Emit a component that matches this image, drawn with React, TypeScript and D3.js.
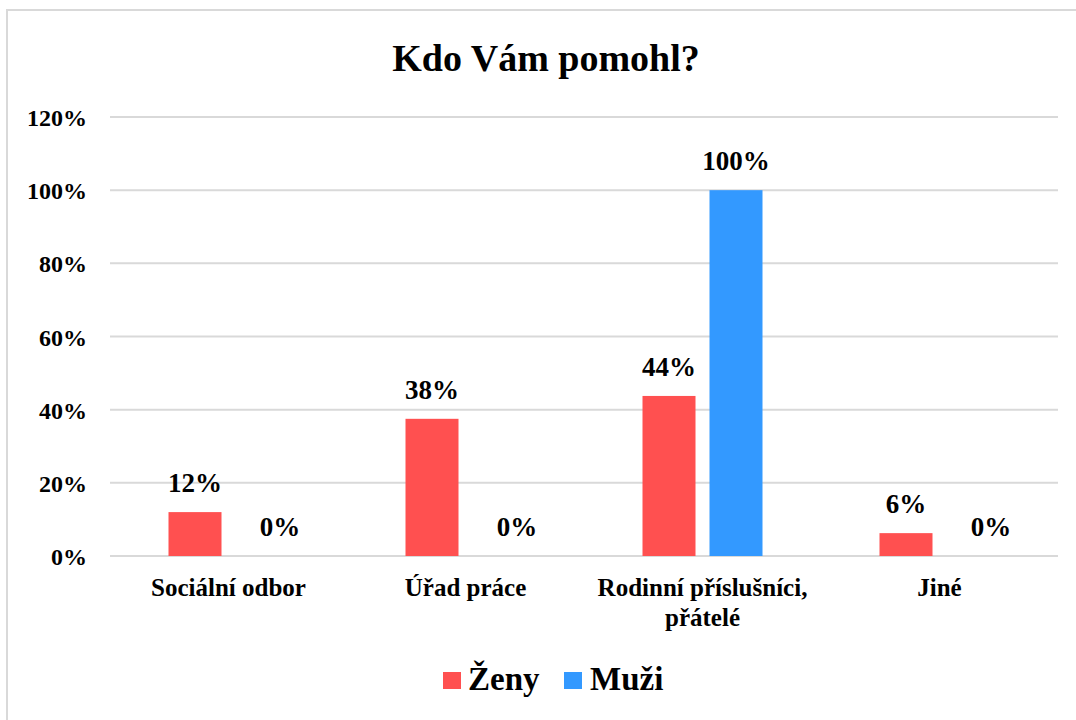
import React from "react";
import * as d3 from "d3";

const categories: string[][] = [
  ["Sociální odbor"],
  ["Úřad práce"],
  ["Rodinní příslušníci,", "přátelé"],
  ["Jiné"],
];
const seriesNames = ["Ženy", "Muži"];
const seriesColors = ["#FF5050", "#3399FF"];
const zenyValues = [0.12, 0.375, 0.4375, 0.0625];
const muziValues = [0, 0, 1.0, 0];
const yTicks = [0, 0.2, 0.4, 0.6, 0.8, 1.0, 1.2];
const title = "Kdo Vám pomohl?";

const W = 1076;
const H = 720;
const FONT = "'Liberation Serif', 'Times New Roman', serif";

export default function App() {
  const left = 110;
  const right = 1058;
  const top = 117;
  const bottom = 556;

  const x0 = d3
    .scaleBand<number>()
    .domain(categories.map((_, i) => i))
    .range([left, right])
    .paddingInner(117 / 237)
    .paddingOuter(117 / 237 / 2);
  const x1 = d3
    .scaleBand<number>()
    .domain([0, 1])
    .range([0, x0.bandwidth()])
    .paddingInner(14 / 67)
    .paddingOuter(0);
  const y = d3.scaleLinear().domain([0, 1.2]).range([bottom, top]);
  const fmt = d3.format(".0%");
  const series = [zenyValues, muziValues];

  return (
    <svg
      width={W}
      height={H}
      style={{ position: "absolute", left: 0, top: 0, display: "block", background: "#fff" }}
      fontFamily={FONT}
      fontWeight="bold"
    >
      <rect x={7} y={10} width={1200} height={900} fill="#fff" stroke="#D9D9D9" strokeWidth={2} />
      <text x={546} y={71} textAnchor="middle" fontSize={38} fill="#000">
        {title}
      </text>
      {yTicks.map((t) => (
        <g key={t}>
          <line x1={left} x2={right} y1={y(t)} y2={y(t)} stroke="#D9D9D9" strokeWidth={2} />
          <text x={87} y={y(t) + 9} textAnchor="end" fontSize={24} fill="#000">
            {fmt(t)}
          </text>
        </g>
      ))}
      {series.map((vals, si) =>
        vals.map((v, ci) => {
          const bx = (x0(ci) as number) + (x1(si) as number);
          const bw = x1.bandwidth();
          const by = y(v);
          const cx = bx + bw / 2 + (v === 0 ? 18 : 0);
          return (
            <g key={`${si}-${ci}`}>
              {v > 0 && (
                <rect x={bx} y={by} width={bw} height={bottom - by} fill={seriesColors[si]} />
              )}
              <text x={cx} y={by - 20} textAnchor="middle" fontSize={27} fill="#000">
                {fmt(v)}
              </text>
            </g>
          );
        })
      )}
      {categories.map((lines, ci) => {
        const cx = (x0(ci) as number) + x0.bandwidth() / 2;
        return (
          <text key={ci} x={cx} y={596} textAnchor="middle" fontSize={25} fill="#000">
            {lines.map((ln, li) => (
              <tspan key={li} x={cx} dy={li === 0 ? 0 : 30}>
                {ln}
              </tspan>
            ))}
          </text>
        );
      })}
      <g>
        <rect x={443} y={672} width={18} height={17} fill={seriesColors[0]} />
        <text x={468} y={690} fontSize={33} fill="#000">
          {seriesNames[0]}
        </text>
        <rect x={564} y={672} width={18} height={17} fill={seriesColors[1]} />
        <text x={590} y={690} fontSize={33} fill="#000">
          {seriesNames[1]}
        </text>
      </g>
    </svg>
  );
}
